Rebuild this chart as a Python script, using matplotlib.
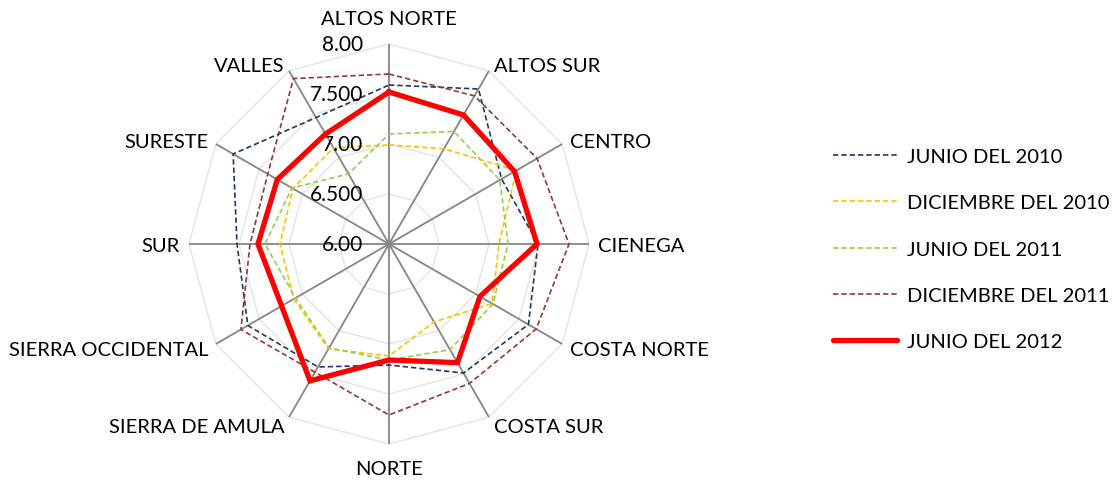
import numpy as np
import matplotlib.pyplot as plt
from matplotlib.lines import Line2D

# Categorias (regiones) y series
regiones = ['ALTOS NORTE', 'ALTOS SUR', 'CENTRO', 'CIENEGA', 'COSTA NORTE', 'COSTA SUR',
            'NORTE', 'SIERRA DE AMULA', 'SIERRA OCCIDENTAL', 'SUR', 'SURESTE', 'VALLES']
junio_2010 = [7.59, 7.79, 7.30, 7.49, 7.61, 7.49, 7.21, 7.42, 7.63, 7.52, 7.80, 7.46]
dic_2010 = [6.99, 7.10, 7.47, 7.10, 7.19, 6.90, 7.12, 7.21, 7.10, 7.09, 7.11, 7.11]
junio_2011 = [7.10, 7.30, 7.28, 7.19, 7.20, 7.22, 7.16, 7.20, 7.08, 7.24, 7.12, 6.81]
dic_2011 = [7.70, 7.71, 7.71, 7.80, 7.70, 7.61, 7.71, 7.48, 7.71, 7.39, 7.40, 7.91]
junio_2012 = [7.52, 7.49, 7.45, 7.48, 7.05, 7.37, 7.16, 7.58, 7.24, 7.31, 7.29, 7.27]
series_nombres = ['JUNIO DEL 2010', 'DICIEMBRE DEL 2010', 'JUNIO DEL 2011',
                  'DICIEMBRE DEL 2011', 'JUNIO DEL 2012']
escala = [6.0, 6.5, 7.0, 7.5, 8.0]
escala_txt = ['6.00', '6.500', '7.00', '7.500', '8.00']

plt.rcParams['font.family'] = ['Lato', 'DejaVu Sans']
fs = 14.5

fig = plt.figure(figsize=(11.19, 4.81), dpi=100)
ax = fig.add_axes([189 / 1119, 36 / 481, 400 / 1119, 400 / 481], projection='polar')
ax.set_theta_zero_location('N')
ax.set_theta_direction(-1)
ax.set_ylim(6, 8)
ax.grid(False)
ax.spines['polar'].set_visible(False)
ax.set_xticks([])
ax.set_yticks([])

n = len(regiones)
ang = np.arange(n) * 2 * np.pi / n
ang_c = np.append(ang, ang[0])

# anillos poligonales y radios
for v in escala[1:]:
    ax.plot(ang_c, [v] * (n + 1), color='#e3e3e3', lw=1.0, zorder=1)
for a in ang:
    ax.plot([a, a], [6, 8], color='#868686', lw=1.3, zorder=2)

estilos = [
    (junio_2010, '#1f3864', 1.2, '--'),
    (dic_2010, '#ffc000', 1.2, '--'),
    (junio_2011, '#92d050', 1.2, '--'),
    (dic_2011, '#953735', 1.2, '--'),
    (junio_2012, '#ff0000', 3.8, '-'),
]
for (vals, col, lw, ls), nom in zip(estilos, series_nombres):
    v = np.append(vals, vals[0])
    if ls == '--':
        ax.plot(ang_c, v, color=col, lw=lw, dashes=(3.2, 1.8), zorder=3, label=nom)
    else:
        ax.plot(ang_c, v, color=col, lw=lw, zorder=4, label=nom, solid_joinstyle='miter')

# etiquetas de escala
for v, t in zip(escala, escala_txt):
    ax.annotate(t, xy=(0, v), xytext=(-26, 0), textcoords='offset pixels',
                ha='right', va='center', fontsize=fs + 0.5, color='black')

# etiquetas de categorias
for a, nom in zip(ang, regiones):
    s, c = np.sin(a), np.cos(a)
    if abs(c) > 0.99:
        dx, dy, ha = 0, 25 * c, 'center'
    else:
        dx = 9 * s
        dy = -2 + 8 * c
        ha = 'left' if s > 0 else 'right'
    ax.annotate(nom, xy=(a, 8), xytext=(dx, dy), textcoords='offset pixels',
                ha=ha, va='center', fontsize=fs, color='black', annotation_clip=False)

leg_handles = []
for (vals, col, lw, ls), nom in zip(estilos, series_nombres):
    if ls == '--':
        leg_handles.append(Line2D([], [], color=col, lw=lw, dashes=(3.2, 1.8)))
    else:
        leg_handles.append(Line2D([], [], color=col, lw=lw, solid_capstyle='round'))
fig.legend(leg_handles, series_nombres, loc='upper left',
           bbox_to_anchor=(833 / 1119, 1 - 149 / 481), frameon=False,
           fontsize=fs, handlelength=3.2, handletextpad=0.45, labelspacing=1.45,
           borderpad=0, borderaxespad=0)

fig.savefig('out.png', dpi=100)
